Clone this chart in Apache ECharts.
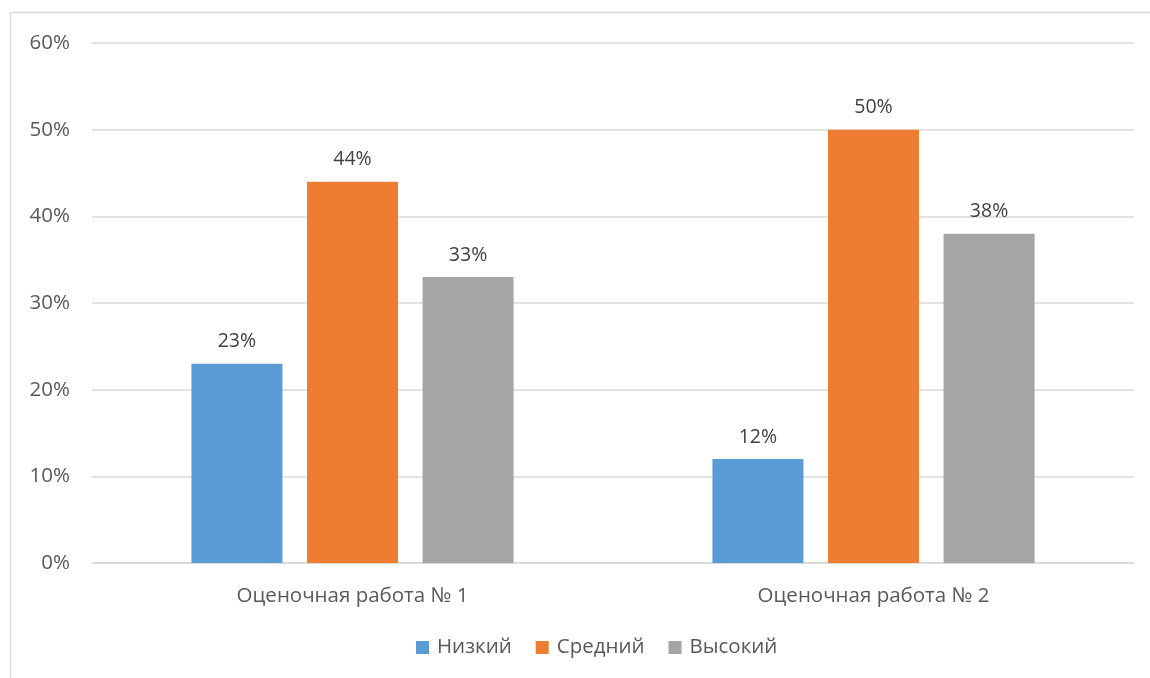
<!DOCTYPE html>
<html>
<head>
<meta charset="utf-8">
<script src="https://cdn.jsdelivr.net/npm/echarts@6/dist/echarts.min.js"></script>
<style>
html,body{margin:0;padding:0;background:#fff;}
#chart{width:1150px;height:678px;}
</style>
</head>
<body>
<div id="chart"></div>
<script>
const categories = ['Оценочная работа № 1', 'Оценочная работа № 2'];
const seriesNames = ['Низкий', 'Средний', 'Высокий'];
const lowValues = [23, 12];
const midValues = [44, 50];
const highValues = [33, 38];
const yTicks = [0, 10, 20, 30, 40, 50, 60];

const colors = ['#5B9BD5', '#ED7D31', '#A5A5A5'];
const font = '"Open Sans", "Noto Sans", sans-serif';
const textColor = '#595959';

const chart = echarts.init(document.getElementById('chart'));
const dataSets = [lowValues, midValues, highValues];
chart.setOption({
  animation: false,
  graphic: [{
    type: 'rect',
    shape: {x: 10.5, y: 12.5, width: 1200, height: 700},
    style: {fill: 'none', stroke: '#d9d9d9', lineWidth: 1.5},
    silent: true
  }],
  grid: {left: 92, right: 16, top: 43, bottom: 115},
  legend: {
    bottom: 15,
    left: 411,
    icon: 'rect',
    itemWidth: 13,
    itemHeight: 13,
    itemGap: 24,
    textStyle: {fontFamily: font, fontSize: 20.5, color: textColor, padding: [0, 0, 0, 3]},
    data: seriesNames
  },
  xAxis: {
    type: 'category',
    data: categories,
    axisLine: {lineStyle: {color: '#d9d9d9', width: 1.5}},
    axisTick: {show: false},
    axisLabel: {fontFamily: font, fontSize: 20.5, color: textColor, margin: 23}
  },
  yAxis: {
    type: 'value',
    min: yTicks[0],
    max: yTicks[yTicks.length - 1],
    interval: 10,
    axisLine: {show: false},
    axisTick: {show: false},
    splitLine: {lineStyle: {color: '#d9d9d9', width: 1.5}},
    axisLabel: {fontFamily: font, fontSize: 20.5, color: textColor, margin: 22, formatter: '{value}%'}
  },
  series: seriesNames.map((n, i) => ({
    name: n,
    type: 'bar',
    data: dataSets[i],
    barWidth: 91,
    barGap: '27%',
    itemStyle: {color: colors[i]},
    label: {
      show: true,
      position: 'top',
      distance: 12,
      formatter: '{c}%',
      fontFamily: font,
      fontSize: 19.5,
      color: '#404040'
    }
  }))
});
</script>
</body>
</html>
